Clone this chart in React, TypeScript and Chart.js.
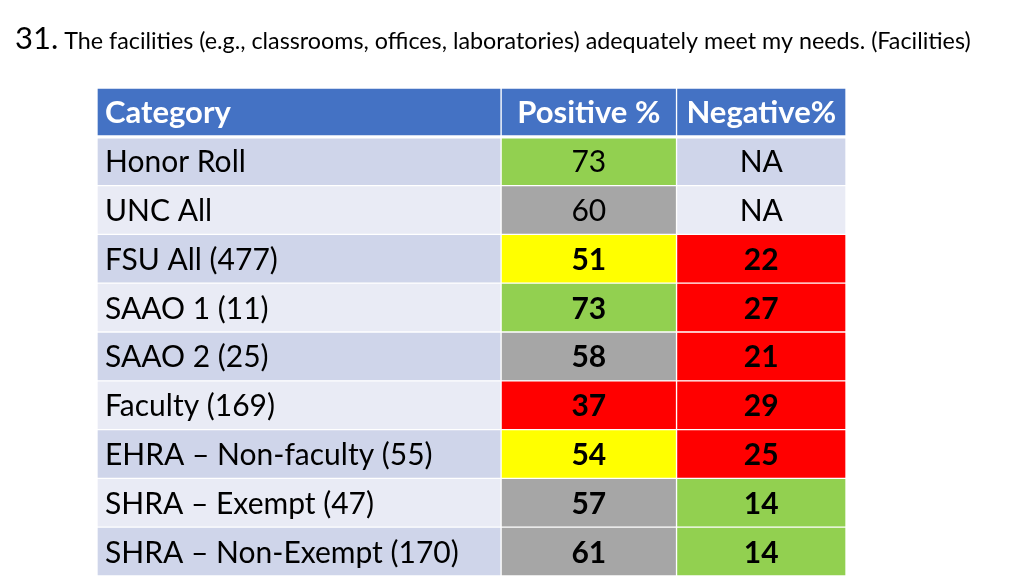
import React, { useEffect, useRef } from "react";
import { Chart, registerables } from "chart.js";

Chart.register(...registerables);

const titleNumber = "31.";
const titleText = "The facilities (e.g., classrooms, offices, laboratories) adequately meet my needs. (Facilities)";

const columnHeaders = ["Category", "Positive %", "Negative%"];
const categories = [
  "Honor Roll",
  "UNC All",
  "FSU All (477)",
  "SAAO 1 (11)",
  "SAAO 2 (25)",
  "Faculty (169)",
  "EHRA – Non-faculty (55)",
  "SHRA – Exempt (47)",
  "SHRA – Non-Exempt (170)",
];
const positive: (number | null)[] = [73, 60, 51, 73, 58, 37, 54, 57, 61];
const negative: (number | null)[] = [null, null, 22, 27, 21, 29, 25, 14, 14];
const positiveRating = ["green", "gray", "yellow", "green", "gray", "red", "yellow", "gray", "gray"];
const negativeRating = ["none", "none", "red", "red", "red", "red", "red", "green", "green"];
const boldValues = [false, false, true, true, true, true, true, true, true];

// styles / layout
const HEADER_BG = "#4472C4";
const STRIPE_DARK = "#CFD5EA";
const STRIPE_LIGHT = "#E9EBF5";
const RATING_COLORS: Record<string, string> = {
  green: "#92D050",
  gray: "#A6A6A6",
  yellow: "#FFFF00",
  red: "#FF0000",
};
const COL_EDGES = [0, 4.03, 5.78, 7.47];
const FONT = "Lato, 'Open Sans', sans-serif";

const stripe = (i: number) => (i % 2 === 0 ? STRIPE_DARK : STRIPE_LIGHT);

export default function App() {
  const ref = useRef<HTMLCanvasElement | null>(null);

  useEffect(() => {
    if (!ref.current) return;
    const labels = [columnHeaders[0], ...categories];
    const span = (c: number) => labels.map(() => [COL_EDGES[c], COL_EDGES[c + 1]]);

    const catColors = [HEADER_BG, ...categories.map((_, i) => stripe(i))];
    const posColors = [HEADER_BG, ...positiveRating.map((r, i) => RATING_COLORS[r] || stripe(i))];
    const negColors = [HEADER_BG, ...negativeRating.map((r, i) => RATING_COLORS[r] || stripe(i))];

    const cellText = (col: number, row: number): string => {
      if (row === 0) return columnHeaders[col];
      const i = row - 1;
      if (col === 0) return categories[i];
      const v = col === 1 ? positive[i] : negative[i];
      return v === null ? "NA" : String(v);
    };

    const textPlugin = {
      id: "tableText",
      afterDatasetsDraw(chart: any) {
        const ctx = chart.ctx as CanvasRenderingContext2D;
        ctx.save();
        chart.data.datasets.forEach((_: any, col: number) => {
          const meta = chart.getDatasetMeta(col);
          meta.data.forEach((el: any, row: number) => {
            const left = Math.min(el.x, el.base);
            const right = Math.max(el.x, el.base);
            const cy = el.y;
            const txt = cellText(col, row);
            let weight = "normal";
            let size = 30;
            if (row === 0) {
              weight = "bold";
              size = 31;
            } else if (col > 0 && boldValues[row - 1]) weight = "bold";
            ctx.font = `${weight} ${size}px ${FONT}`;
            ctx.fillStyle = row === 0 ? "#FFFFFF" : "#000000";
            ctx.textBaseline = "alphabetic";
            const baseline = cy + 11;
            if (col === 0) {
              ctx.textAlign = "left";
              ctx.fillText(txt, left + 8, baseline);
            } else {
              ctx.textAlign = "center";
              ctx.fillText(txt, (left + right) / 2, baseline);
            }
          });
        });
        ctx.restore();
      },
    };

    const titlePlugin = {
      id: "slideTitle",
      afterDraw(chart: any) {
        const ctx = chart.ctx as CanvasRenderingContext2D;
        ctx.save();
        ctx.fillStyle = "#000000";
        ctx.textBaseline = "alphabetic";
        ctx.textAlign = "left";
        ctx.font = `31px ${FONT}`;
        ctx.fillText(titleNumber, 15, 49);
        const w = ctx.measureText(titleNumber).width;
        ctx.font = `23.3px ${FONT}`;
        ctx.fillText(titleText, 15 + w + 6, 49);
        ctx.restore();
      },
    };

    const makeDs = (c: number, colors: string[]) => ({
      label: columnHeaders[c],
      data: span(c),
      backgroundColor: colors,
      borderColor: "#FFFFFF",
      borderWidth: (ctx: any) =>
        ctx.dataIndex === 0 ? { top: 1, left: 1, right: 1, bottom: 2 } : ctx.dataIndex === 1 ? { top: 2, left: 1, right: 1, bottom: 1 } : 1,
      borderSkipped: false,
      barPercentage: 1,
      categoryPercentage: 1,
    });

    const chart = new Chart(ref.current, {
      type: "bar",
      data: {
        labels,
        datasets: [makeDs(0, catColors), makeDs(1, posColors), makeDs(2, negColors)] as any,
      },
      options: {
        indexAxis: "y",
        animation: false,
        responsive: true,
        maintainAspectRatio: false,
        layout: { padding: { left: 97, right: 178, top: 88, bottom: 0 } },
        scales: {
          x: { type: "linear", min: COL_EDGES[0], max: COL_EDGES[3], display: false, stacked: false },
          y: { type: "category", display: false, stacked: true },
        },
        plugins: {
          legend: { display: false },
          tooltip: { enabled: false },
          title: { display: false },
        },
      },
      plugins: [textPlugin, titlePlugin],
    });
    return () => chart.destroy();
  }, []);

  return (
    <div style={{ position: "fixed", left: 0, top: 0, width: 1024, height: 576, background: "#fff" }}>
      <canvas ref={ref} />
    </div>
  );
}
